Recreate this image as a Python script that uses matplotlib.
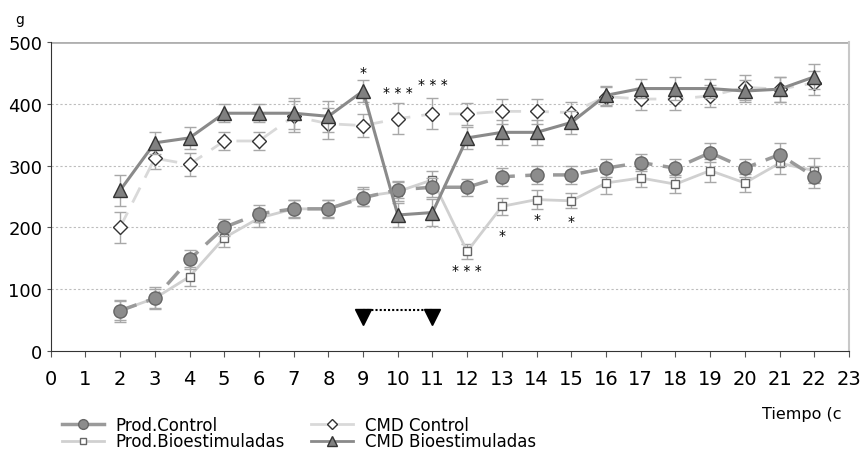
import matplotlib
matplotlib.use("Agg")

import matplotlib.pyplot as plt
from matplotlib.lines import Line2D

days = list(range(2, 23))

prod_control = [65, 85, 148, 200, 222, 230, 230, 248, 261, 265, 265, 282, 285, 285,
                296, 305, 296, 321, 296, 318, 282]
prod_control_err = [15, 15, 15, 14, 14, 14, 14, 14, 14, 15, 14, 15, 15, 14,
                    15, 14, 15, 15, 15, 18, 18]

prod_bio = [65, 85, 120, 183, 215, 230, 230, 250, 258, 277, 161, 234, 245, 243,
            272, 280, 270, 292, 272, 304, 292]
prod_bio_err = [18, 18, 15, 15, 15, 15, 15, 15, 15, 15, 12, 14, 15, 12,
                18, 14, 15, 18, 15, 18, 20]

cmd_control = [200, 312, 302, 340, 340, 380, 368, 365, 376, 384, 384, 388, 388, 386,
               412, 408, 408, 413, 427, 424, 434]
cmd_control_err = [25, 18, 18, 15, 15, 25, 25, 18, 25, 25, 18, 20, 20, 18,
                   15, 18, 18, 18, 20, 20, 20]

cmd_bio = [260, 337, 345, 385, 385, 385, 380, 421, 220, 224, 345, 354, 354, 370,
           414, 425, 425, 425, 421, 424, 444]
cmd_bio_err = [25, 18, 18, 15, 15, 25, 25, 18, 20, 22, 18, 20, 20, 18,
               15, 15, 18, 15, 18, 20, 20]

# significance marks
sig_x = [9, 10, 11, 12, 13, 14, 15]
sig_y = [452, 419, 433, 131, 188, 213, 211]
sig_txt = ["*", "* * *", "* * *", "* * *", "*", "*", "*"]

arrow_days = [9, 11]

plt.rcParams['font.family'] = ['DejaVu Sans']
fig = plt.figure(figsize=(8.68, 4.6), dpi=100)
ax = fig.add_axes([0.0584, 0.2354, 0.9197, 0.6705])

ebkw = dict(capsize=4, elinewidth=1, ecolor="#a8a8a8", capthick=1)

ax.errorbar(days, cmd_control, yerr=cmd_control_err, color="#d9d9d9", ls=(0, (6, 4)),
            lw=2, marker="D", ms=7, mfc="white", mec="#333333", mew=1, zorder=3, **ebkw)
ax.errorbar(days, prod_bio, yerr=prod_bio_err, color="#d0d0d0", ls="-",
            lw=2, marker="s", ms=6, mfc="white", mec="#666666", mew=1, zorder=3, **ebkw)
ax.errorbar(days, prod_control, yerr=prod_control_err, color="#9a9a9a", ls=(0, (5, 3)),
            lw=2.5, marker="o", ms=9.5, mfc="#8c8c8c", mec="#666666", mew=1, zorder=4, **ebkw)
ax.errorbar(days, cmd_bio, yerr=cmd_bio_err, color="#8a8a8a", ls="-",
            lw=2.2, marker="^", ms=10, mfc="#808080", mec="#333333", mew=1, zorder=5, **ebkw)

for x, y, t in zip(sig_x, sig_y, sig_txt):
    ax.text(x, y, t, ha="center", va="center", fontsize=10, color="black")

ax.plot(arrow_days, [66, 66], color="black", ls=(0, (1, 1)), lw=1.5, zorder=5)
ax.plot(arrow_days, [55, 55], ls="none", marker="v", ms=12, color="black", zorder=6)

ax.set_xlim(0, 23)
ax.set_ylim(0, 500)
ax.set_xticks(range(0, 24))
ax.set_yticks(range(0, 501, 100))
for y in [100, 200, 300, 400]:
    ax.axhline(y, color="#bdbdbd", ls=(0, (2, 2)), lw=0.8, zorder=0)
ax.axhline(500, color="#b0b0b0", lw=2, zorder=0)

ax.spines["top"].set_visible(False)
ax.spines["right"].set_color("#c8c8c8")
ax.spines["right"].set_linewidth(1.5)
ax.spines["left"].set_color("#333333")
ax.spines["bottom"].set_color("#333333")
ax.tick_params(axis="x", direction="out", length=4, labelsize=14, pad=9, color="#555555")
ax.tick_params(axis="y", direction="out", length=3, labelsize=13, pad=3, color="#555555")

fig.text(0.017, 0.957, "g", fontsize=10, va="center")
fig.text(0.878, 0.098, "Tiempo (c", fontsize=11.5, ha="left", va="center")

handles = [
    Line2D([], [], color="#9a9a9a", lw=2.5, marker="o", ms=7, mfc="#8c8c8c", mec="#666666"),
    Line2D([], [], color="#d0d0d0", lw=2, marker="s", ms=4, mfc="white", mec="#666666"),
    Line2D([], [], color="#d9d9d9", lw=2, marker="D", ms=5, mfc="white", mec="#333333"),
    Line2D([], [], color="#8a8a8a", lw=2, marker="^", ms=7, mfc="#808080", mec="#333333"),
]
labels = ["Prod.Control", "Prod.Bioestimuladas", "CMD Control", "CMD Bioestimuladas"]
fig.legend(handles, labels, ncol=2, loc="upper left", bbox_to_anchor=(62 / 868, 1 - 417 / 460),
           frameon=False, fontsize=12, borderpad=0, borderaxespad=0,
           handlelength=2.5, handletextpad=0.7, columnspacing=1.6, labelspacing=-0.1)

fig.savefig("out.png", dpi=100)
